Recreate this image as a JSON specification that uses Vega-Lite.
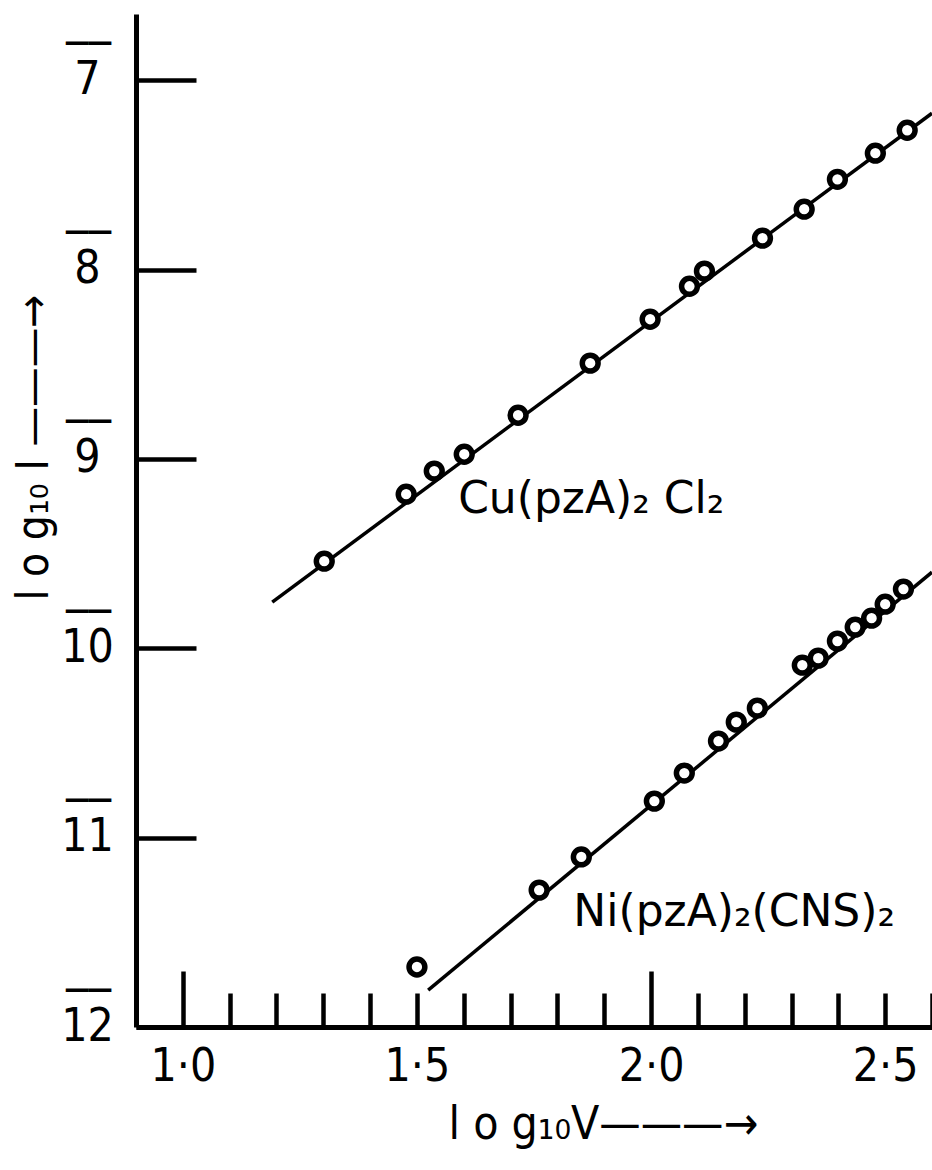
{
  "$schema": "https://vega.github.io/schema/vega-lite/v6.json",
  "width": 796,
  "height": 1013,
  "autosize": {"type": "none"},
  "padding": {"left": 136, "top": 14, "right": 0, "bottom": 143},
  "background": "white",
  "config": {"view": {"stroke": null}},
  "datasets": {
    "points": [
      {"series": "Cu", "x": 1.302, "y": -9.540},
      {"series": "Cu", "x": 1.477, "y": -9.186},
      {"series": "Cu", "x": 1.537, "y": -9.064},
      {"series": "Cu", "x": 1.601, "y": -8.975},
      {"series": "Cu", "x": 1.716, "y": -8.769},
      {"series": "Cu", "x": 1.870, "y": -8.494},
      {"series": "Cu", "x": 1.998, "y": -8.262},
      {"series": "Cu", "x": 2.082, "y": -8.088},
      {"series": "Cu", "x": 2.114, "y": -8.008},
      {"series": "Cu", "x": 2.238, "y": -7.834},
      {"series": "Cu", "x": 2.327, "y": -7.681},
      {"series": "Cu", "x": 2.398, "y": -7.523},
      {"series": "Cu", "x": 2.479, "y": -7.385},
      {"series": "Cu", "x": 2.547, "y": -7.264},
      {"series": "Ni", "x": 1.500, "y": -11.683},
      {"series": "Ni", "x": 1.761, "y": -11.277},
      {"series": "Ni", "x": 1.851, "y": -11.102},
      {"series": "Ni", "x": 2.007, "y": -10.807},
      {"series": "Ni", "x": 2.071, "y": -10.659},
      {"series": "Ni", "x": 2.144, "y": -10.490},
      {"series": "Ni", "x": 2.182, "y": -10.390},
      {"series": "Ni", "x": 2.227, "y": -10.316},
      {"series": "Ni", "x": 2.323, "y": -10.089},
      {"series": "Ni", "x": 2.357, "y": -10.052},
      {"series": "Ni", "x": 2.398, "y": -9.962},
      {"series": "Ni", "x": 2.436, "y": -9.888},
      {"series": "Ni", "x": 2.471, "y": -9.841},
      {"series": "Ni", "x": 2.500, "y": -9.767},
      {"series": "Ni", "x": 2.539, "y": -9.687}
    ],
    "fits": [
      {"series": "Cu", "x": 1.191, "y": -9.756},
      {"series": "Cu", "x": 2.6, "y": -7.174},
      {"series": "Ni", "x": 1.524, "y": -11.805},
      {"series": "Ni", "x": 2.6, "y": -9.598}
    ],
    "labels": [
      {"x": 1.588, "y": -9.286, "text": "Cu(pzA)₂ Cl₂"},
      {"x": 1.834, "y": -11.467, "text": "Ni(pzA)₂(CNS)₂"}
    ]
  },
  "resolve": {"axis": {"y": "independent"}},
  "encoding": {
    "x": {
      "field": "x",
      "type": "quantitative",
      "scale": {"domain": [0.9, 2.6], "nice": false, "zero": false},
      "axis": {
        "values": [1, 1.1, 1.2, 1.3, 1.4, 1.5, 1.6, 1.7, 1.8, 1.9, 2, 2.1, 2.2, 2.3, 2.4, 2.5, 2.6],
        "labelExpr": "abs(datum.value*2 - round(datum.value*2)) < 0.001 ? replace(format(datum.value, '.1f'), '.', '·') : ''",
        "tickSize": {"condition": {"test": "abs(datum.value - 1) < 0.001 || abs(datum.value - 2) < 0.001", "value": -56}, "value": -34},
        "labelPadding": {"condition": {"test": "abs(datum.value - 1) < 0.001 || abs(datum.value - 2) < 0.001", "value": 73}, "value": 51},
        "tickWidth": 4.5,
        "tickColor": "black",
        "domainColor": "black",
        "domainWidth": 5,
        "grid": false,
        "labelFont": "DejaVu Sans Condensed",
        "labelFontSize": 46,
        "labelColor": "black",
        "labelFlush": false,
        "labelOverlap": false,
        "labelAlign": "center",
        "labelBaseline": "top",
        "title": "l o g₁₀V———→",
        "titleFont": "DejaVu Sans Condensed",
        "titleFontSize": 46,
        "titleFontWeight": "normal",
        "titleColor": "black",
        "titleAlign": "left",
        "titleBaseline": "alphabetic",
        "titleX": 312,
        "titleY": 111
      }
    }
  },
  "layer": [
    {
      "data": {"name": "fits"},
      "mark": {"type": "line", "color": "black", "strokeWidth": 3.5},
      "encoding": {
        "y": {
          "field": "y",
          "type": "quantitative",
          "scale": {"domain": [-12, -6.65], "nice": false, "zero": false},
          "axis": {
            "orient": "left",
            "values": [-12, -11, -10, -9, -8, -7],
            "labelExpr": "format(-datum.value, 'd')",
            "tickSize": -60,
            "labelPadding": 109,
            "tickWidth": 4.5,
            "tickColor": "black",
            "domainColor": "black",
            "domainWidth": 5,
            "grid": false,
            "labelFont": "DejaVu Sans Condensed",
            "labelFontSize": 46,
            "labelColor": "black",
            "labelFlush": false,
            "labelOverlap": false,
            "labelAlign": "center",
            "labelBaseline": "alphabetic",
            "labelOffset": 13,
            "title": "l o g₁₀ I ———→",
            "titleFont": "DejaVu Sans Condensed",
            "titleFontSize": 44,
            "titleFontWeight": "normal",
            "titleColor": "black",
            "titleAngle": -90,
            "titleAlign": "left",
            "titleBaseline": "alphabetic",
            "titleX": -89,
            "titleY": 586
          }
        },
        "detail": {"field": "series"}
      }
    },
    {
      "data": {"name": "points"},
      "mark": {"type": "point", "shape": "circle", "size": 250, "filled": false, "fill": "white", "fillOpacity": 1, "stroke": "black", "strokeWidth": 5.5, "opacity": 1},
      "encoding": {
        "y": {"field": "y", "type": "quantitative", "scale": {"domain": [-12, -6.65], "nice": false, "zero": false}, "axis": null},
        "detail": {"field": "series"}
      }
    },
    {
      "data": {"name": "labels"},
      "mark": {"type": "text", "align": "left", "baseline": "alphabetic", "font": "DejaVu Sans", "fontSize": 44, "color": "black"},
      "encoding": {
        "y": {
          "field": "y",
          "type": "quantitative",
          "scale": {"domain": [-12, -6.65], "nice": false, "zero": false},
          "axis": {
            "orient": "left",
            "values": [-12, -11, -10, -9, -8, -7],
            "labelExpr": "'__'",
            "ticks": false,
            "domain": false,
            "grid": false,
            "title": null,
            "labelPadding": 48,
            "labelFont": "DejaVu Sans Mono",
            "labelFontSize": 38,
            "labelFontWeight": "bold",
            "labelColor": "black",
            "labelFlush": false,
            "labelOverlap": false,
            "labelAlign": "center",
            "labelBaseline": "alphabetic",
            "labelOffset": -45
          }
        },
        "text": {"field": "text"}
      }
    }
  ]
}
